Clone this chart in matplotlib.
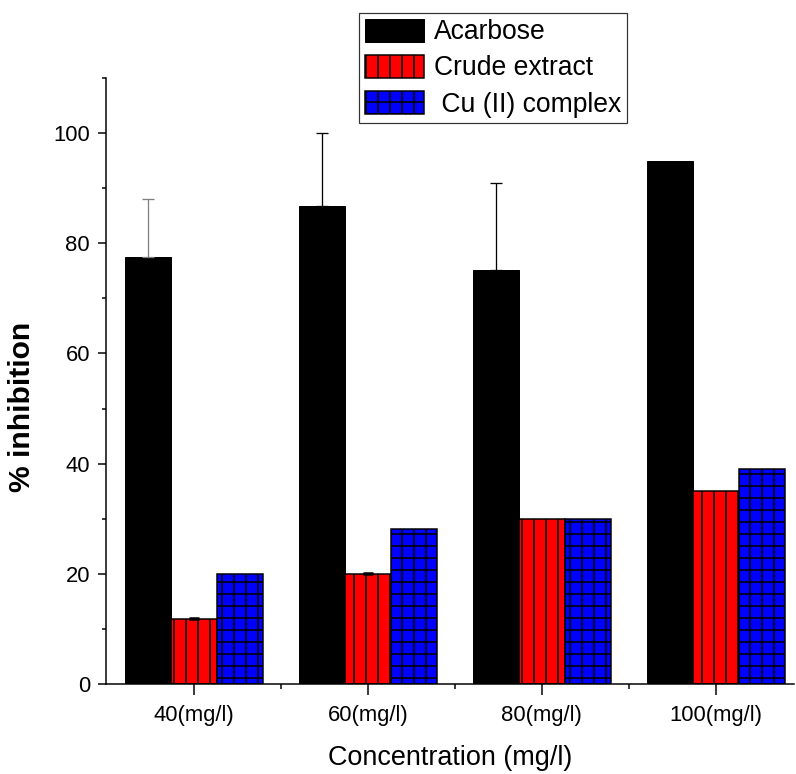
import matplotlib
matplotlib.use("Agg")
import matplotlib.pyplot as plt
import numpy as np
from matplotlib.ticker import MultipleLocator, FixedLocator

plt.rcParams['font.family'] = ['Liberation Sans', 'DejaVu Sans']
plt.rcParams['hatch.linewidth'] = 1.6

categories = ["40(mg/l)", "60(mg/l)", "80(mg/l)", "100(mg/l)"]
acarbose = [77.5, 86.8, 75.2, 95.0]
acarbose_err = [10.5, 13.2, 15.7, 0.0]
crude = [11.8, 20.0, 30.0, 35.0]
crude_err = [0.2, 0.2, 0.0, 0.0]
cu = [20.0, 28.1, 30.0, 39.0]
series_names = ["Acarbose", "Crude extract", " Cu (II) complex"]
acarbose_err_colors = ["#808080", "black", "black", "black"]

fig = plt.figure(figsize=(796/72, 774/72), dpi=72)
ax = fig.add_axes([106/796, 90/774, 688/796, 606/774])

x = np.arange(len(categories))
w = 0.265
b1 = ax.bar(x - w, acarbose, w, color='black', edgecolor='black', linewidth=1,
            label=series_names[0])
b2 = ax.bar(x, crude, w, color='#ff0000', edgecolor='black', linewidth=1.5,
            hatch='|', label=series_names[1])
b3 = ax.bar(x + w, cu, w, color='#0000ff', edgecolor='black', linewidth=1.5,
            hatch='+', label=series_names[2])

for xi, yi, ei, ci in zip(x - w, acarbose, acarbose_err, acarbose_err_colors):
    if ei > 0:
        ax.errorbar([xi], [yi], yerr=[[0], [ei]], fmt='none', ecolor=ci,
                    capsize=6, elinewidth=1.3, capthick=1.3)
for xi, yi, ei in zip(x, crude, crude_err):
    if ei > 0:
        ax.errorbar([xi], [yi], yerr=[[0], [ei]], fmt='none', ecolor='black',
                    capsize=5, elinewidth=1.5, capthick=2.5)

ax.set_xlim(-0.506, 3.45)
ax.set_ylim(0, 110)
ax.spines['top'].set_visible(False)
ax.spines['right'].set_visible(False)
ax.spines['left'].set_linewidth(1.5)
ax.spines['bottom'].set_linewidth(1.5)

ax.set_xticks(x)
ax.set_xticklabels(categories)
ax.xaxis.set_minor_locator(FixedLocator([0.5, 1.5, 2.5]))
ax.yaxis.set_major_locator(MultipleLocator(20))
ax.yaxis.set_minor_locator(MultipleLocator(10))
ax.tick_params(axis='x', which='major', direction='out', length=11, width=1.5, labelsize=22, pad=10)
ax.tick_params(axis='x', which='minor', direction='out', length=5, width=1.5)
ax.tick_params(axis='y', which='major', direction='out', length=8, width=1.5, labelsize=22, pad=8)
ax.tick_params(axis='y', which='minor', direction='out', length=4, width=1.5)

ax.set_ylabel("% inhibition", fontsize=30, fontweight='bold')
ax.yaxis.set_label_coords((22 - 106) / 688, (684 - 407) / 606)
ax.yaxis.label.set_verticalalignment('center')
ax.set_xlabel("Concentration (mg/l)", fontsize=27)
ax.xaxis.set_label_coords((450 - 106) / 688, -(758 - 684) / 606)
ax.xaxis.label.set_verticalalignment('center')

leg = fig.legend(handles=[b1, b2, b3], loc='upper left', bbox_to_anchor=(359/796, 1 - 13/774),
                 fontsize=26.5, frameon=True, fancybox=False, edgecolor='black',
                 handlelength=2.25, handleheight=0.95, borderpad=0.22, labelspacing=0.36,
                 handletextpad=0.35, borderaxespad=0)
leg.get_frame().set_linewidth(1.2)

fig.savefig("out.png", dpi=72)
